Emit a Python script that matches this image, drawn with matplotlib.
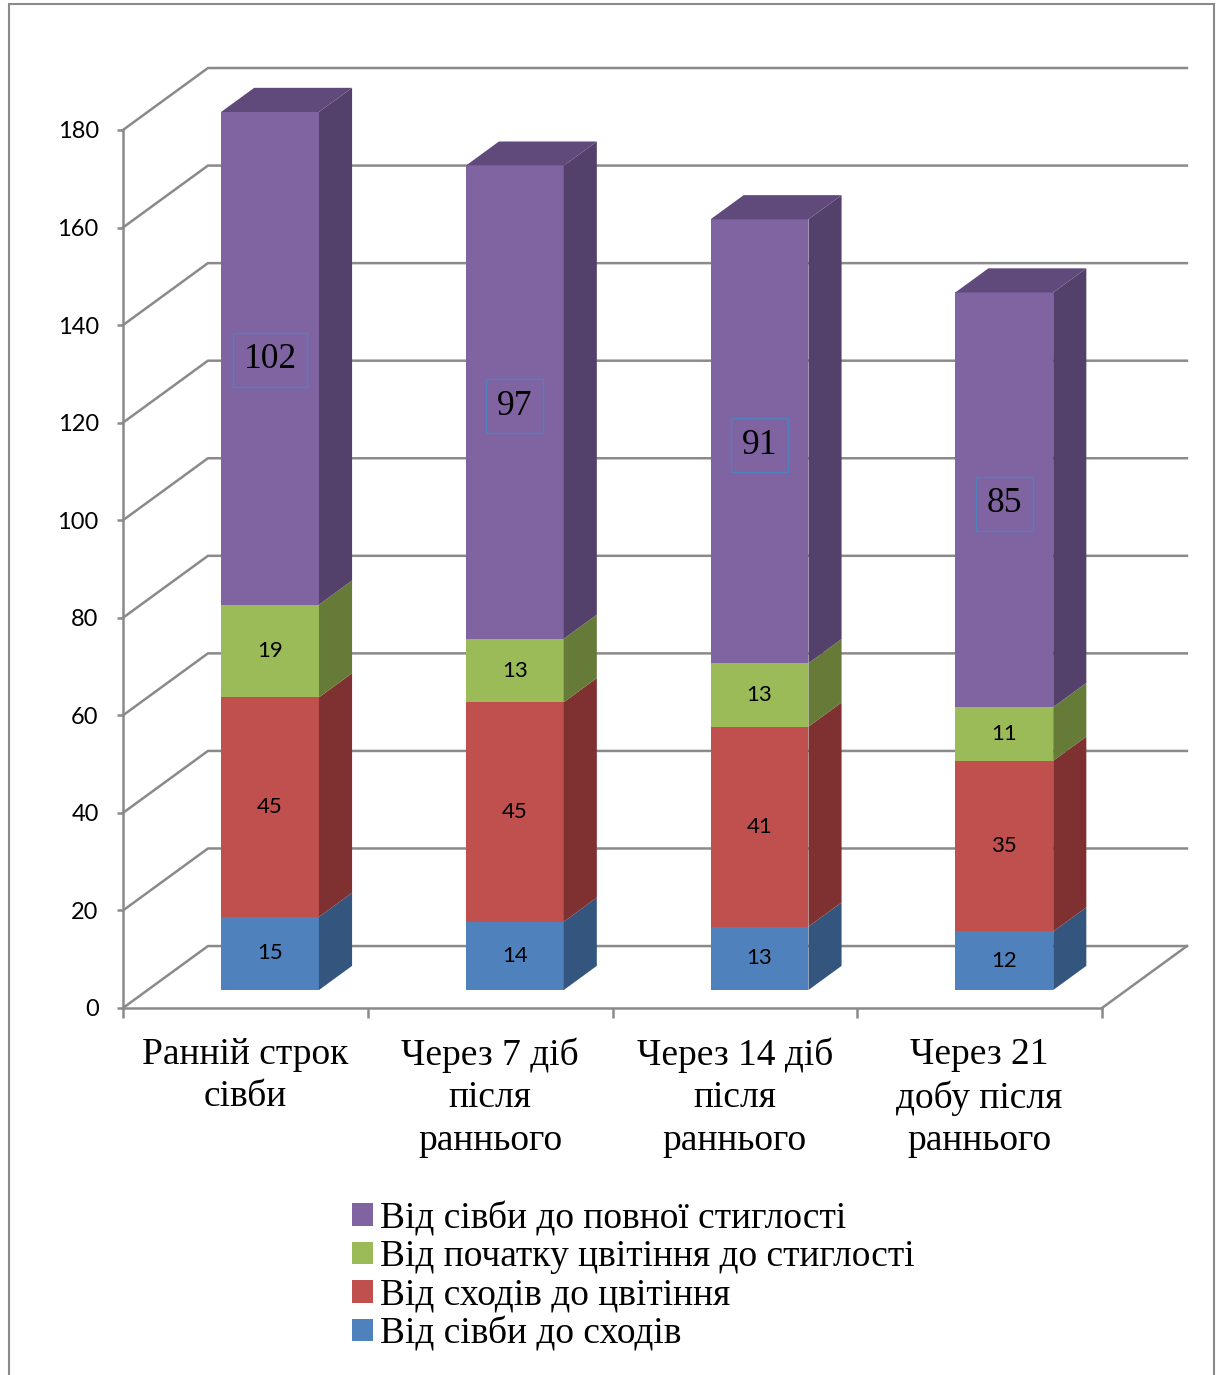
import matplotlib.pyplot as plt
import numpy as np
from matplotlib.patches import Polygon, Patch, Rectangle

plt.rcParams['font.family'] = ['Lato', 'DejaVu Sans']

categories = ["Ранній строк\nсівби", "Через 7 діб\nпісля\nраннього",
              "Через 14 діб\nпісля\nраннього", "Через 21\nдобу після\nраннього"]
series_names = ["Від сівби до сходів", "Від сходів до цвітіння",
                "Від початку цвітіння до стиглості", "Від сівби до повної стиглості"]
sowing_to_emergence = [15, 14, 13, 12]
emergence_to_flowering = [45, 45, 41, 35]
flowering_to_ripeness = [19, 13, 13, 11]
sowing_to_full_ripeness = [102, 97, 91, 85]

front_colors = ["#4F81BD", "#C0504D", "#9BBB59", "#8064A2"]
side_colors = ["#34567E", "#7E3130", "#667B37", "#53416B"]
top_color = "#604A7B"

y_max = 180
y_ticks = np.arange(0, 181, 20)

# depth of the 3d box in data units (category units, value units)
DX, DY = 0.347, 12.7
bar_front = 0.29      # bar front face sits this far into the floor
bar_depth = 0.39      # bar thickness as a fraction of the box depth
bar_width = 0.4

W, H = 1218, 1375
fig = plt.figure(figsize=(W / 100, H / 100), dpi=100)

px_cat, px_val = 244.75, 4.878
x_hi, y_hi = 4.36, 194
ax = fig.add_axes([123 / W, (H - 1008) / H, x_hi * px_cat / W, y_hi * px_val / H])
ax.set_xlim(0, x_hi)
ax.set_ylim(0, y_hi)

grid_kw = dict(color="#8A8A8A", lw=1.8, zorder=1, clip_on=False)
for v in y_ticks:
    ax.plot([0, DX, 4 + DX], [v, v + DY, v + DY], **grid_kw)
ax.plot([4, 4 + DX], [0, DY], **grid_kw)

for s in ["top", "right"]:
    ax.spines[s].set_visible(False)
for s in ["left", "bottom"]:
    ax.spines[s].set_color("#8A8A8A")
    ax.spines[s].set_linewidth(1.8)
ax.spines["left"].set_bounds(0, 180)
ax.spines["bottom"].set_bounds(0, 4)

ax.set_yticks(y_ticks)
ax.tick_params(axis="y", length=4.5, width=1.8, color="#8A8A8A", pad=13, labelsize=17)
ax.set_xticks(np.arange(0, 5))
ax.set_xticklabels([])
ax.tick_params(axis="x", which="major", length=7, width=1.8, color="#8A8A8A")
ax.set_xticks(np.arange(4) + 0.5, minor=True)
ax.set_xticklabels(categories, minor=True, family="Liberation Serif", fontsize=27,
                   linespacing=1.31)
ax.tick_params(axis="x", which="minor", length=0, pad=21)

series = [sowing_to_emergence, emergence_to_flowering,
          flowering_to_ripeness, sowing_to_full_ripeness]
fx, fy = bar_front * DX, bar_front * DY
bx, by = bar_depth * DX, bar_depth * DY

for i in range(len(categories)):
    base = 0
    x0 = i + 0.5 + fx - bar_width / 2
    x1 = x0 + bar_width
    for j, vals in enumerate(series):
        val = vals[i]
        b, t = min(base, y_max), min(base + val, y_max)
        ax.add_patch(Polygon([(x0, b + fy), (x1, b + fy), (x1, t + fy), (x0, t + fy)],
                             closed=True, fc=front_colors[j], ec="none", zorder=3))
        ax.add_patch(Polygon([(x1, b + fy), (x1 + bx, b + fy + by),
                              (x1 + bx, t + fy + by), (x1, t + fy)],
                             closed=True, fc=side_colors[j], ec="none", zorder=3))
        if j == len(series) - 1:
            ax.add_patch(Polygon([(x0, t + fy), (x1, t + fy),
                                  (x1 + bx, t + fy + by), (x0 + bx, t + fy + by)],
                                 closed=True, fc=top_color, ec="none", zorder=3))
            ax.text((x0 + x1) / 2, base + val / 2 + fy - 0.8, str(val), ha="center",
                    va="center", family="Liberation Serif", fontsize=25.5, zorder=5,
                    bbox=dict(boxstyle="square,pad=0.3", fc="none", ec="#4F81BD", lw=1))
        else:
            ax.text((x0 + x1) / 2, base + val / 2 + fy, str(val), ha="center",
                    va="center", fontsize=16, zorder=5)
        base += val

handles = [Patch(fc=c, ec="none") for c in front_colors[::-1]]
fig.legend(handles, series_names[::-1], loc="upper left", bbox_to_anchor=(352 / W, 1 - 1201 / H),
           frameon=False, prop=dict(family="Liberation Serif", size=27),
           handlelength=0.55, handleheight=0.55, handletextpad=0.2, labelspacing=0.1,
           borderpad=0, borderaxespad=0)

fig.patches.append(Rectangle((9 / W, -0.01), 1205 / W, 1 - 4 / H + 0.01,
                             transform=fig.transFigure, fill=False, ec="#8A8A8A", lw=1.5))

fig.savefig("out.png", dpi=100)
